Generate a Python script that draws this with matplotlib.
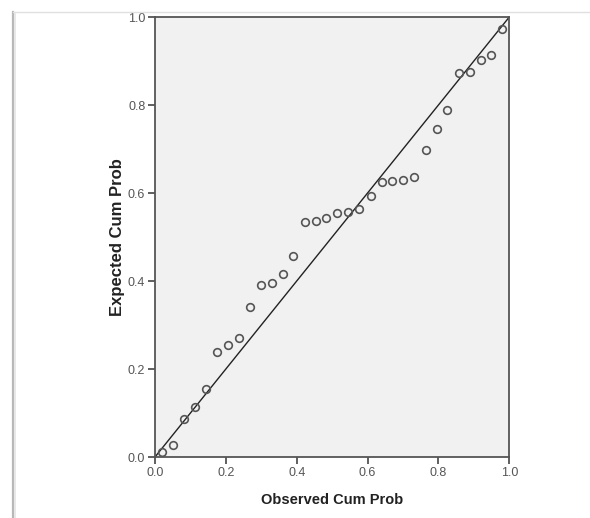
import matplotlib
matplotlib.use("Agg")
import matplotlib.pyplot as plt
from matplotlib.lines import Line2D

plt.rcParams['font.family'] = ['Liberation Sans', 'DejaVu Sans']

observed = [0.019, 0.050, 0.081, 0.112, 0.143, 0.174, 0.205, 0.236, 0.268,
            0.298, 0.329, 0.360, 0.390, 0.423, 0.454, 0.484, 0.515, 0.545,
            0.576, 0.609, 0.640, 0.670, 0.701, 0.732, 0.764, 0.795, 0.825,
            0.858, 0.889, 0.919, 0.949, 0.980]
expected = [0.012, 0.027, 0.086, 0.113, 0.154, 0.239, 0.255, 0.270, 0.340,
            0.392, 0.396, 0.416, 0.457, 0.533, 0.537, 0.543, 0.555, 0.556,
            0.563, 0.594, 0.624, 0.627, 0.630, 0.636, 0.698, 0.745, 0.789,
            0.872, 0.874, 0.902, 0.913, 0.973]
ticks = [0.0, 0.2, 0.4, 0.6, 0.8, 1.0]
tick_labels = ["0.0", "0.2", "0.4", "0.6", "0.8", "1.0"]

fig = plt.figure(figsize=(5.90, 5.18), dpi=100)
fig.patch.set_facecolor('white')

# window frame lines (screenshot border)
fig.add_artist(Line2D([13/590, 13/590], [0, 1 - 12/518], color='#b8b8b8', lw=1.6))
fig.add_artist(Line2D([15/590, 15/590], [0, 1 - 14/518], color='#e4e4e4', lw=1.2))
fig.add_artist(Line2D([13/590, 1], [1 - 12/518, 1 - 12/518], color='#e0e0e0', lw=1.0))

ax = fig.add_axes([155/590, (518-457)/518, (509.3-155)/590, (457-17)/518])
ax.set_facecolor('#f1f1f1')

ax.plot([0, 1], [0, 1], color='#222222', lw=1.0, zorder=2)
ax.plot(observed, expected, linestyle='none', marker='o', markersize=5.5,
        markerfacecolor='none', markeredgecolor='#555555', markeredgewidth=1.2,
        zorder=3)

ax.set_xlim(0, 1)
ax.set_ylim(0, 1)
ax.set_xticks(ticks)
ax.set_xticklabels(tick_labels)
ax.set_yticks(ticks)
ax.set_yticklabels(tick_labels)
ax.tick_params(direction='out', length=5, width=1.2, color='#444444',
               labelcolor='#555555', labelsize=9, pad=2)
for s in ax.spines.values():
    s.set_color('#555555')
    s.set_linewidth(1.3)

ax.set_xlabel('Observed Cum Prob', fontsize=10.5, fontweight='bold',
              color='#222222', labelpad=10)
ax.set_ylabel('Expected Cum Prob', fontsize=12, fontweight='bold',
              color='#222222', labelpad=2)

fig.savefig('out.png', dpi=100)
